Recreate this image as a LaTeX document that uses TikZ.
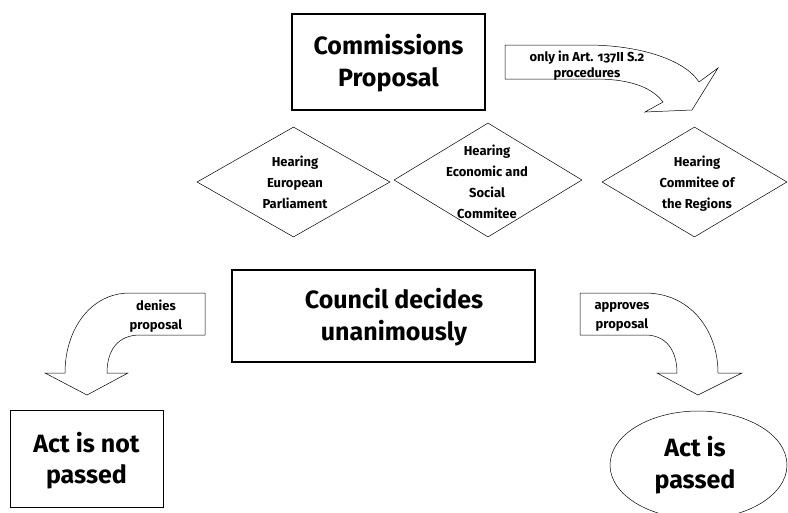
\documentclass[tikz,border=0pt]{standalone}
\usepackage{fontspec}
\setmainfont{Fira Sans}[Numbers=OldStyle]
\usetikzlibrary{shapes.geometric}
\begin{document}
\begin{tikzpicture}[x=1pt,y=-1pt,
  line width=0.7pt,
  bigbox/.style={draw, line width=1.1pt, inner sep=0pt},
  bigtext/.style={align=center, font=\fontsize{25}{32}\selectfont\bfseries, inner sep=0pt},
  dia/.style={draw, line width=0.5pt, diamond, inner sep=0pt},
  dtext/.style={align=center, font=\fontsize{13}{21}\selectfont\bfseries, inner sep=0pt},
  atext/.style={align=center, font=\fontsize{13}{16}\selectfont\bfseries, inner sep=0pt},
  barrow/.style={draw, line width=0.5pt, fill=white}]
\useasboundingbox (0,0) rectangle (788,512);
\fill[white] (0,0) rectangle (788,512);

% Commissions Proposal
\node[bigbox, minimum width=193pt, minimum height=96pt] (cp) at (388.5,62) {};
\node[bigtext] (cpt) at (388.5,63) {Commissions\\Proposal};

% top curved arrow
\draw[barrow] (505,45) -- (587,45) .. controls (640,45) and (685,60) .. (699,82)
  -- (718,68) -- (692,110) -- (645,112) -- (663,102)
  .. controls (650,85) and (625,79) .. (595,79) -- (505,79) -- cycle;
\node[atext] (only) at (587,66) {only in Art. 137II S.2\\procedures};

% diamonds
\node[dia, minimum width=193pt, minimum height=110pt] (ep) at (293.5,182) {};
\node[dtext] (ept) at (295,182) {Hearing\\European\\Parliament};
\node[dia, minimum width=188pt, minimum height=114pt] (esc) at (488,180) {};
\node[dtext] (esct) at (487,182) {Hearing\\Economic and\\Social\\Commitee};
\node[dia, minimum width=185pt, minimum height=110pt] (cr) at (694.5,182) {};
\node[dtext] (crt) at (697,184) {Hearing\\Commitee of\\the Regions};

% Council
\node[bigbox, minimum width=303pt, minimum height=92pt] (council) at (383.5,316) {};
\node[bigtext] (councilt) at (394,317) {Council decides\\unanimously};

% left arrow
\draw[barrow] (205,293) -- (130,293) .. controls (90,293) and (65,330) .. (65,373)
  -- (45,373) -- (87,395) -- (128,373) -- (107,373)
  .. controls (107,350) and (118,335) .. (140,335) -- (205,335) -- cycle;
\node[atext, font=\fontsize{13}{19}\selectfont\bfseries] (den) at (156,316) {denies\\proposal};

% right arrow
\draw[barrow] (580,293) -- (645,293) .. controls (690,293) and (718,330) .. (718,373)
  -- (742,373) -- (698,395) -- (657,373) -- (677,373)
  .. controls (677,350) and (666,335) .. (645,335) -- (580,335) -- cycle;
\node[atext, font=\fontsize{13}{19}\selectfont\bfseries] (app) at (622,317) {approves\\proposal};

% results
\node[draw, line width=0.7pt, minimum width=153pt, minimum height=97pt, inner sep=0pt] (notp) at (86.5,458.5) {};
\node[bigtext, font=\fontsize{25}{31}\selectfont\bfseries] (notpt) at (86.5,461) {Act is not\\passed};
\node[draw, line width=0.5pt, ellipse, minimum width=177pt, minimum height=108pt, inner sep=0pt] (pass) at (698.5,465) {};
\node[bigtext, font=\fontsize{25}{32}\selectfont\bfseries] (passt) at (695,465) {Act is\\passed};
\end{tikzpicture}
\end{document}
